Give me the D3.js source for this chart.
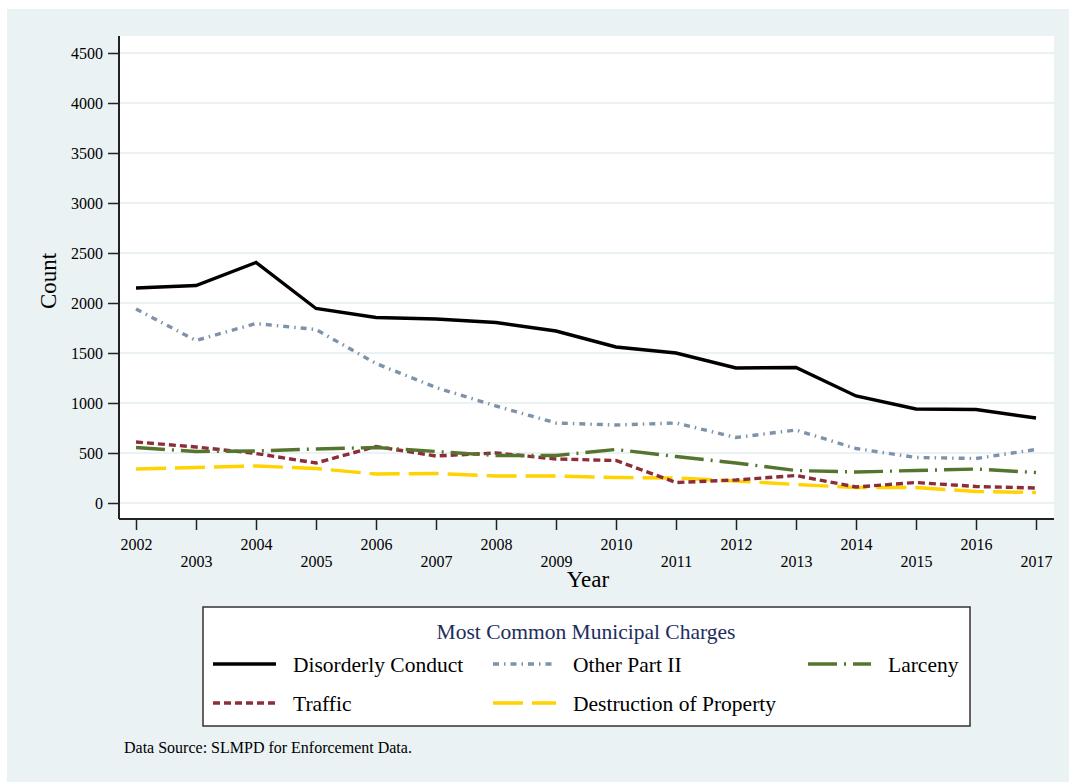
<!DOCTYPE html>
<html>
<head>
<meta charset="utf-8">
<script src="https://cdn.jsdelivr.net/npm/d3@7"></script>
<style>
  body { margin: 0; background: #ffffff; }
  text { font-family: "Liberation Serif", "DejaVu Serif", serif; }
</style>
</head>
<body>
<svg id="chart"></svg>
<script>
const years = [2002, 2003, 2004, 2005, 2006, 2007, 2008, 2009, 2010, 2011, 2012, 2013, 2014, 2015, 2016, 2017];
const disorderly = [2150, 2175, 2405, 1945, 1855, 1840, 1805, 1720, 1560, 1500, 1350, 1355, 1070, 940, 935, 850];
const otherPart2 = [1940, 1625, 1795, 1735, 1395, 1155, 970, 800, 780, 800, 655, 730, 545, 455, 445, 535];
const larceny = [555, 515, 520, 540, 555, 515, 475, 475, 535, 465, 400, 325, 310, 325, 340, 305];
const traffic = [610, 560, 495, 400, 565, 470, 500, 440, 425, 205, 230, 275, 160, 205, 165, 150];
const destruction = [340, 355, 370, 345, 290, 295, 270, 270, 255, 250, 220, 185, 155, 155, 115, 105];
const yTicks = [0, 500, 1000, 1500, 2000, 2500, 3000, 3500, 4000, 4500];

const seriesNames = ["Disorderly Conduct", "Other Part II", "Larceny", "Traffic", "Destruction of Property"];
const seriesValues = [disorderly, otherPart2, larceny, traffic, destruction];
const seriesColors = ["#000000", "#7e93ab", "#55752f", "#8c2e3a", "#ffd200"];
const seriesDash = [null, "6,5,1.5,5", "29,7,2,7", "7,4", "30,9"];

const width = 1069;
const height = 782;
const bg = "#eaf2f3";

var svg = d3.select("#chart")
    .attr("width", width)
    .attr("height", height);

// outer background
svg.append("rect")
    .attr("x", 7).attr("y", 9)
    .attr("width", width - 7).attr("height", height - 9)
    .attr("fill", bg);

// plot region
const plotLeft = 119, plotRight = 1054, plotTop = 36, plotBottom = 519;
svg.append("rect")
    .attr("x", plotLeft).attr("y", plotTop)
    .attr("width", plotRight - plotLeft).attr("height", plotBottom - plotTop)
    .attr("fill", "#ffffff");

var x = d3.scaleLinear().domain([2002, 2017]).range([136, 1036]);
var y = d3.scaleLinear().domain([0, 4500]).range([503, 53]);

// gridlines
svg.append("g")
    .selectAll("line")
    .data(yTicks)
    .enter()
    .append("line")
    .attr("x1", plotLeft).attr("x2", plotRight)
    .attr("y1", d => y(d)).attr("y2", d => y(d))
    .attr("stroke", bg)
    .attr("stroke-width", 2);

// y axis
var yAxis = svg.append("g")
    .attr("transform", "translate(" + plotLeft + ",0)")
    .call(d3.axisLeft(y).tickValues(yTicks).tickFormat(d3.format("d"))
        .tickSize(11).tickPadding(5).tickSizeOuter(0));
yAxis.select(".domain").remove();
yAxis.append("line")
    .attr("x1", 0).attr("x2", 0)
    .attr("y1", plotTop).attr("y2", plotBottom)
    .attr("stroke", "#222").attr("stroke-width", 2);
yAxis.selectAll(".tick line").attr("stroke", "#222").attr("stroke-width", 1.5);
yAxis.selectAll(".tick text")
    .attr("fill", "#000")
    .style("font-size", "16px")
    .style("font-family", "Liberation Serif");

// x axis
var xAxis = svg.append("g")
    .attr("transform", "translate(0," + plotBottom + ")")
    .call(d3.axisBottom(x).tickValues(years).tickFormat(d3.format("d")).tickSize(11).tickSizeOuter(0));
xAxis.select(".domain").remove();
xAxis.append("line")
    .attr("x1", plotLeft).attr("x2", plotRight)
    .attr("y1", 0).attr("y2", 0)
    .attr("stroke", "#222").attr("stroke-width", 2);
xAxis.selectAll(".tick line").attr("stroke", "#222").attr("stroke-width", 1.5);
xAxis.selectAll(".tick text")
    .attr("fill", "#000")
    .attr("dy", null)
    .attr("y", (d, i) => i % 2 === 0 ? 31 : 48)
    .style("font-size", "16px")
    .style("font-family", "Liberation Serif");

// axis titles
svg.append("text")
    .attr("transform", "translate(56,281) rotate(-90)")
    .attr("text-anchor", "middle")
    .style("font-size", "23px")
    .text("Count");

svg.append("text")
    .attr("x", 588).attr("y", 587)
    .attr("text-anchor", "middle")
    .style("font-size", "23px")
    .text("Year");

// lines
var line = d3.line()
    .x((d, i) => x(years[i]))
    .y(d => y(d));

svg.append("g")
    .selectAll("path")
    .data(seriesValues.slice().reverse())
    .enter()
    .append("path")
    .attr("d", line)
    .attr("fill", "none")
    .attr("stroke", (d, i) => seriesColors[seriesValues.length - 1 - i])
    .attr("stroke-dasharray", (d, i) => seriesDash[seriesValues.length - 1 - i])
    .attr("stroke-width", 3.4);

// legend
var legend = svg.append("g");
legend.append("rect")
    .attr("x", 203).attr("y", 607)
    .attr("width", 767).attr("height", 119)
    .attr("fill", "#ffffff")
    .attr("stroke", "#333")
    .attr("stroke-width", 1.5);

legend.append("text")
    .attr("x", 586).attr("y", 639)
    .attr("text-anchor", "middle")
    .attr("fill", "#1c2d5c")
    .style("font-size", "21.5px")
    .text("Most Common Municipal Charges");

const legendPos = [[213, 664], [493, 664], [808, 664], [213, 703], [493, 703]];
seriesNames.forEach(function(name, i) {
    var p = legendPos[i];
    legend.append("line")
        .attr("x1", p[0]).attr("x2", p[0] + 63)
        .attr("y1", p[1]).attr("y2", p[1])
        .attr("stroke", seriesColors[i])
        .attr("stroke-dasharray", seriesDash[i])
        .attr("stroke-width", 3.4);
    legend.append("text")
        .attr("x", p[0] + 80).attr("y", p[1] + 8)
        .attr("fill", "#000")
        .style("font-size", "21.5px")
        .text(name);
});

svg.append("text")
    .attr("x", 124).attr("y", 753)
    .style("font-size", "16px")
    .text("Data Source: SLMPD for Enforcement Data.");
</script>
</body>
</html>
